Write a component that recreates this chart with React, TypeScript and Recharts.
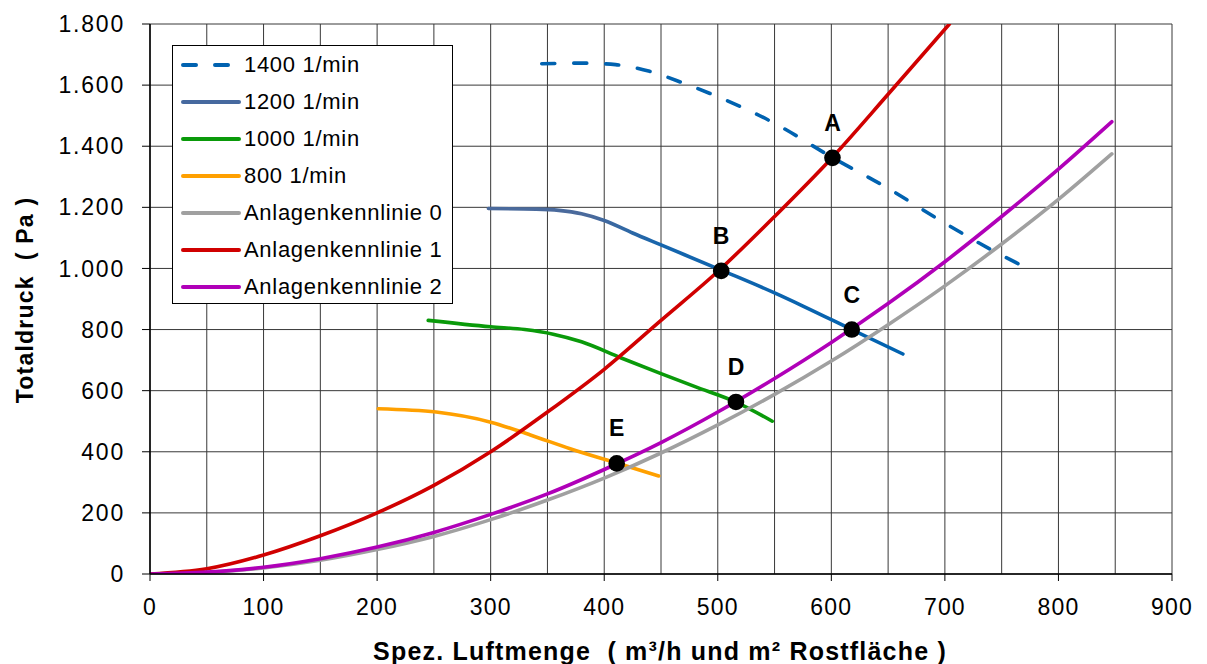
import React from 'react';
import { ComposedChart, Line, Scatter, XAxis, YAxis, CartesianGrid, Label } from 'recharts';

// Ventilator-Kennlinien [Luftmenge, Totaldruck]
const rpm1400: [number, number][] = [
  [345, 1670], [380, 1672], [410, 1667], [440, 1645], [470, 1606], [500, 1562],
  [550, 1475], [600, 1365], [650, 1262], [700, 1148], [750, 1043], [773, 1000],
];
const rpm1200: [number, number][] = [
  [298, 1196], [340, 1194], [360, 1190], [380, 1179], [400, 1157], [425, 1116],
  [450, 1077], [504, 993], [550, 920], [575, 877], [618, 800], [663, 720],
];
const rpm1000: [number, number][] = [
  [245, 830], [300, 809], [330, 800], [355, 785], [380, 760], [415, 707],
  [450, 656], [480, 613], [515, 564], [548, 500],
];
const rpm800: [number, number][] = [
  [201, 541], [252, 530], [300, 497], [335, 455], [370, 410], [411, 363], [448, 321],
];

// Anlagenkennlinien
const anlage0: [number, number][] = [
  [0, 0], [50, 5], [100, 20], [150, 45], [200, 80], [250, 123], [300, 178], [350, 242],
  [400, 314], [450, 396], [500, 488], [550, 588], [600, 697], [650, 816], [700, 943],
  [750, 1080], [800, 1226], [847, 1375],
];
const anlage1: [number, number][] = [
  [0, 0], [50, 17], [100, 62], [150, 125], [200, 200], [250, 290], [300, 400], [350, 530],
  [400, 670], [450, 830], [500, 990], [550, 1170], [600, 1360], [650, 1570], [704, 1800],
];
const anlage2: [number, number][] = [
  [0, 0], [50, 6], [100, 22], [150, 50], [200, 88], [250, 136], [300, 195], [350, 262],
  [400, 342], [450, 430], [500, 530], [550, 640], [600, 758], [650, 885], [700, 1022],
  [750, 1170], [800, 1325], [847, 1480],
];

// Betriebspunkte
const pointNames = ['A', 'B', 'C', 'D', 'E'];
const pointX = [601, 503, 618, 516, 411];
const pointY = [1362, 992, 800, 563, 362];

const xTicks = [0, 100, 200, 300, 400, 500, 600, 700, 800, 900];
const yTicks = [0, 200, 400, 600, 800, 1000, 1200, 1400, 1600, 1800];
const xGrid = [0, 50, 100, 150, 200, 250, 300, 350, 400, 450, 500, 550, 600, 650, 700, 750, 800, 850, 900];

const toRows = (pts: [number, number][]) => pts.map(([x, y]) => ({ x, y }));
const points = pointNames.map((name, i) => ({ name, x: pointX[i], y: pointY[i] }));

const series = [
  { key: 'n1400', name: '1400 1/min', data: rpm1400, color: '#0062b0', legendColor: '#0062b0', dash: '13 19' },
  { key: 'n1200', name: '1200 1/min', data: rpm1200, color: 'url(#grad1200)', legendColor: '#46699f' },
  { key: 'n1000', name: '1000 1/min', data: rpm1000, color: '#0a9a0a', legendColor: '#0a9a0a' },
  { key: 'n800', name: '800 1/min', data: rpm800, color: '#ffa000', legendColor: '#ffa000' },
  { key: 'a0', name: 'Anlagenkennlinie 0', data: anlage0, color: '#a0a0a0', legendColor: '#a0a0a0' },
  { key: 'a1', name: 'Anlagenkennlinie 1', data: anlage1, color: '#d00000', legendColor: '#d00000' },
  { key: 'a2', name: 'Anlagenkennlinie 2', data: anlage2, color: '#b000b8', legendColor: '#b000b8' },
];

const font = 'Arial, "Liberation Sans", sans-serif';
const germanNumber = (v: number) => String(v).replace(/\B(?=(\d{3})+(?!\d))/g, '.');

const LegendBox = () => (
  <div
    style={{
      position: 'absolute',
      left: 172,
      top: 45,
      width: 279,
      height: 256,
      border: '1px solid #000',
      background: '#fff',
      paddingTop: 1,
      fontFamily: font,
    }}
  >
    {series.map((s) => (
      <div key={s.key} style={{ height: 36.9, display: 'flex', alignItems: 'center' }}>
        <svg width={72} height={10} style={{ marginLeft: 8 }}>
          <line
            x1={2}
            x2={58}
            y1={5}
            y2={5}
            stroke={s.legendColor}
            strokeWidth={4}
            strokeLinecap="round"
            strokeDasharray={s.dash ? '13 19' : undefined}
          />
        </svg>
        <span style={{ marginLeft: -9, fontSize: 22, letterSpacing: 0.7, color: '#000' }}>{s.name}</span>
      </div>
    ))}
  </div>
);

const PointShape = (props: any) => {
  const { cx, cy, payload } = props;
  return (
    <g>
      <circle cx={cx} cy={cy} r={8.3} fill="#000" />
      <text x={cx} y={cy - 27} textAnchor="middle" fontFamily={font} fontWeight="bold" fontSize={23} fill="#000">
        {payload.name}
      </text>
    </g>
  );
};

export default function App() {
  return (
    <div style={{ position: 'absolute', left: 0, top: 0, width: 1207, height: 664, background: '#fff' }}>
      <ComposedChart width={1207} height={664} margin={{ top: 24, right: 35, bottom: 0, left: 0 }}>
        <defs>
          <linearGradient id="grad1200" x1="0" y1="0" x2="1" y2="0">
            <stop offset="0%" stopColor="#4a6a9c" />
            <stop offset="25%" stopColor="#4a6a9c" />
            <stop offset="42%" stopColor="#1565ad" />
            <stop offset="100%" stopColor="#0062b0" />
          </linearGradient>
        </defs>
        <CartesianGrid stroke="#383838" strokeWidth={1} verticalValues={xGrid} horizontalValues={yTicks} />
        <XAxis
          type="number"
          dataKey="x"
          domain={[0, 900]}
          ticks={xTicks}
          height={90}
          allowDataOverflow
          axisLine={{ stroke: '#000', strokeWidth: 1.5 }}
          tickLine={{ stroke: '#000' }}
          tickSize={7}
          tickMargin={18}
          tick={{ fontSize: 23, fill: '#000', fontFamily: font, letterSpacing: 1.2 }}
        >
          <Label
            content={() => (
              <text
                x={660}
                y={660}
                textAnchor="middle"
                fontFamily={font}
                fontWeight="bold"
                fontSize={25}
                letterSpacing={1.2}
                fill="#000"
                style={{ whiteSpace: 'pre' }}
              >
                Spez. Luftmenge  ( m³/h und m² Rostfläche )
              </text>
            )}
          />
        </XAxis>
        <YAxis
          type="number"
          domain={[0, 1800]}
          ticks={yTicks}
          width={150}
          allowDataOverflow
          axisLine={{ stroke: '#000', strokeWidth: 1.5 }}
          tickLine={{ stroke: '#000' }}
          tickSize={8}
          tickMargin={17}
          tickFormatter={germanNumber}
          tick={{ fontSize: 23, fill: '#000', fontFamily: font, letterSpacing: 1.8 }}
        >
          <Label
            content={() => (
              <text
                x={25}
                y={300}
                transform="rotate(-90 25 300)"
                textAnchor="middle"
                dominantBaseline="central"
                fontFamily={font}
                fontWeight="bold"
                fontSize={23}
                letterSpacing={1.2}
                fill="#000"
                style={{ whiteSpace: 'pre' }}
              >
                Totaldruck  ( Pa )
              </text>
            )}
          />
        </YAxis>
        {series.map((s) => (
          <Line
            key={s.key}
            data={toRows(s.data)}
            dataKey="y"
            name={s.name}
            type="monotone"
            stroke={s.color}
            strokeWidth={3.6}
            strokeDasharray={s.dash}
            strokeLinecap="round"
            dot={false}
            activeDot={false}
            isAnimationActive={false}
          />
        ))}
        <Scatter data={points} dataKey="y" shape={PointShape} isAnimationActive={false} />
      </ComposedChart>
      <LegendBox />
    </div>
  );
}
